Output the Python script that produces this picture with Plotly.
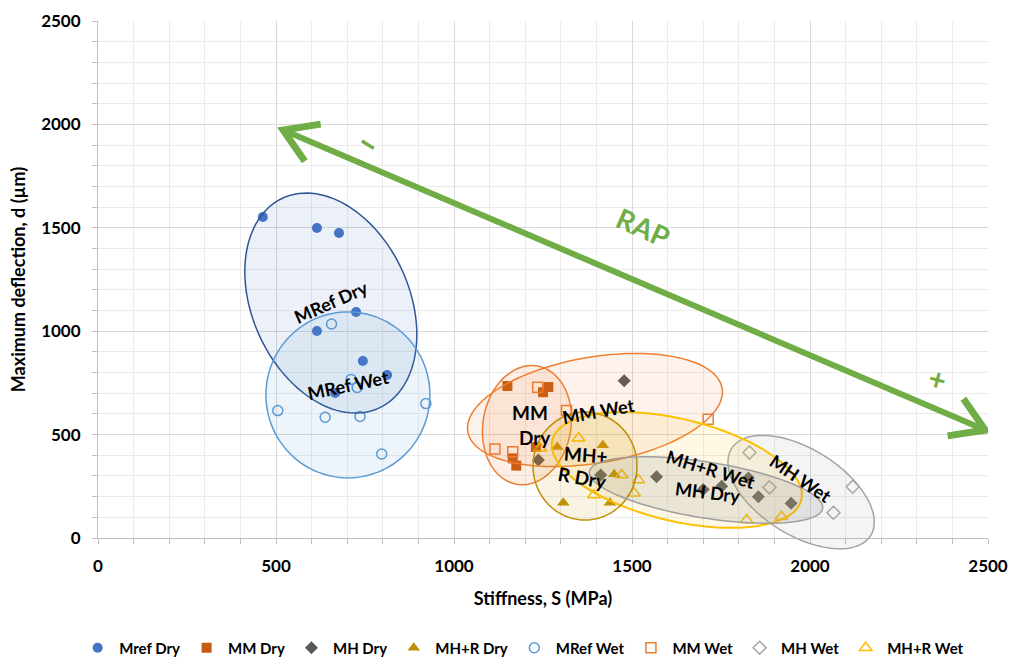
import numpy as np
import plotly.graph_objects as go

# ---------------- data (Stiffness S in MPa, max deflection d in µm) ----------------
mref_dry_s = [463, 615, 677, 725, 615, 744, 812, 666]
mref_dry_d = [1552, 1499, 1475, 1093, 1001, 856, 788, 701]
mm_dry_s = [1150, 1265, 1250, 1230, 1165, 1175]
mm_dry_d = [735, 730, 705, 440, 385, 350]
mh_dry_s = [1478, 1237, 1412, 1569, 1700, 1752, 1827, 1855, 1947]
mh_dry_d = [761, 377, 305, 296, 235, 250, 290, 200, 168]
mhr_dry_s = [1290, 1418, 1450, 1307, 1438]
mhr_dry_d = [440, 448, 308, 170, 170]
mref_wet_s = [656, 711, 728, 505, 638, 736, 921, 797]
mref_wet_d = [1035, 767, 728, 616, 584, 588, 650, 406]
mm_wet_s = [1235, 1316, 1115, 1165, 1714]
mm_wet_d = [729, 616, 430, 417, 574]
mh_wet_s = [1830, 1886, 2066, 2120]
mh_wet_d = [413, 245, 122, 248]
mhr_wet_s = [1242, 1350, 1471, 1518, 1506, 1393, 1822, 1920]
mhr_wet_d = [434, 482, 305, 280, 216, 208, 87, 103]

x_ticks = [0, 500, 1000, 1500, 2000, 2500]
y_ticks = [0, 500, 1000, 1500, 2000, 2500]
X_RANGE = [0, 2500]
Y_RANGE = [0, 2500]

# ---------------- layout geometry ----------------
W, H = 1009, 658
ML, MR, MT, MB = 98, 21, 21, 120
PW, PH = W - ML - MR, H - MT - MB
SX = PW / float(X_RANGE[1] - X_RANGE[0])   # px per MPa
SY = PH / float(Y_RANGE[1] - Y_RANGE[0])   # px per µm

FONT = "Lato, 'Open Sans', sans-serif"

fig = go.Figure()


def to_paper(xd, yd):
    return ((np.asarray(xd) - X_RANGE[0]) / (X_RANGE[1] - X_RANGE[0]),
            (np.asarray(yd) - Y_RANGE[0]) / (Y_RANGE[1] - Y_RANGE[0]))


# ---------------- ellipses (group outlines) ----------------
# center (data), semi-axes (px), angle (deg, screen, clockwise)
ellipses = [
    (654, 1136, 115.5, 78.5, 65.5, "#2F5597", "rgba(68,114,196,0.10)", 1.5),   # MRef Dry
    (702, 692, 83, 82, 90, "#5B9BD5", "rgba(91,155,213,0.11)", 1.5),           # MRef Wet
    (1396, 619, 129, 53, -9.7, "#ED7D31", "rgba(237,125,49,0.09)", 1.5),       # MM Wet
    (1205, 546, 60, 44, 100, "#ED7D31", "rgba(237,125,49,0.12)", 1.5),         # MM Dry
    (1975, 222, 82, 43, 32, "#A5A5A5", "rgba(180,180,180,0.14)", 1.5),         # MH Wet
    (1626, 329, 128, 51, 13.5, "#FFC000", "rgba(255,200,40,0.12)", 2),         # MH+R Wet
    (1368, 348, 54, 52, 90, "#BF9000", "rgba(191,144,0,0.11)", 1.5),           # MH+R Dry
    (1708, 232, 118, 28, 9, "#9F9F9F", "rgba(128,128,128,0.16)", 1.5),         # MH Dry
]


def ellipse_pts(cx, cy, a, b, ang):
    t = np.linspace(0, 2 * np.pi, 120, endpoint=False)
    th = np.radians(ang)
    dx = a * np.cos(t) * np.cos(th) - b * np.sin(t) * np.sin(th)
    dy = a * np.cos(t) * np.sin(th) + b * np.sin(t) * np.cos(th)
    return cx + dx / SX, cy - dy / SY


shapes = []
for cx, cy, a, b, ang, lc, fc, lw in ellipses:
    ex, ey = ellipse_pts(cx, cy, a, b, ang)
    px, py = to_paper(ex, ey)
    path = "M " + " L ".join("{:.5f},{:.5f}".format(u, v) for u, v in zip(px, py)) + " Z"
    shapes.append(dict(type="path", xref="paper", yref="paper", path=path,
                       fillcolor=fc, line=dict(color=lc, width=lw), layer="above"))

# ---------------- series ----------------
series = [
    ("Mref Dry", mref_dry_s, mref_dry_d, "circle", "#4472C4", True, 10),
    ("MM Dry", mm_dry_s, mm_dry_d, "square", "#C55A11", True, 10),
    ("MH Dry", mh_dry_s, mh_dry_d, "diamond", "#595959", True, 10),
    ("MH+R Dry", mhr_dry_s, mhr_dry_d, "triangle-up", "#BF9000", True, 11),
    ("MRef Wet", mref_wet_s, mref_wet_d, "circle-open", "#5B9BD5", False, 10),
    ("MM Wet", mm_wet_s, mm_wet_d, "square-open", "#ED7D31", False, 10),
    ("MH Wet", mh_wet_s, mh_wet_d, "diamond-open", "#A5A5A5", False, 10),
    ("MH+R Wet", mhr_wet_s, mhr_wet_d, "triangle-up-open", "#FFC000", False, 11),
]
for name, xs, ys, sym, col, filled, sz in series:
    fig.add_trace(go.Scatter(
        x=xs, y=ys, mode="markers", name=name,
        marker=dict(symbol=sym, size=sz, color=col,
                    line=dict(color=col, width=1.5 if not filled else 0))))

# ---------------- RAP arrow ----------------
GREEN = "#70AD47"
arrow_start = (520, 1973)
arrow_end = (2492, 522)


def to_px(p):
    return np.array([p[0] * SX, -p[1] * SY])


def to_data(v):
    return (v[0] / SX, -v[1] / SY)


p0, p1 = to_px(arrow_start), to_px(arrow_end)
shapes.append(dict(type="line", xref="x", yref="y",
                   x0=arrow_start[0], y0=arrow_start[1],
                   x1=arrow_end[0], y1=arrow_end[1],
                   line=dict(color=GREEN, width=6), layer="above"))
u = (p1 - p0) / np.linalg.norm(p1 - p0)
for tip, d in ((p0, u), (p1, -u)):
    arms = []
    for rot in (32, -32):
        r = np.radians(rot)
        v = np.array([d[0] * np.cos(r) - d[1] * np.sin(r),
                      d[0] * np.sin(r) + d[1] * np.cos(r)])
        arms.append(tip + v * 38)
    pts = [to_data(arms[0]), to_data(tip), to_data(arms[1])]
    path = "M {:.2f},{:.2f} L {:.2f},{:.2f} L {:.2f},{:.2f}".format(
        pts[0][0], pts[0][1], pts[1][0], pts[1][1], pts[2][0], pts[2][1])
    shapes.append(dict(type="path", xref="x", yref="y", path=path,
                       line=dict(color=GREEN, width=7), layer="above"))

# "minus" sign near the upper-left arrow end: short green stroke
minus_c = to_px((758, 1902))
mu = np.array([np.cos(np.radians(32)), np.sin(np.radians(32))]) * 7
m0, m1 = to_data(minus_c - mu), to_data(minus_c + mu)
shapes.append(dict(type="line", xref="x", yref="y", x0=m0[0], y0=m0[1],
                   x1=m1[0], y1=m1[1], line=dict(color=GREEN, width=3.5),
                   layer="above"))

# ---------------- labels ----------------
labels = [
    ("MRef Dry", 654, 1140, -24, 18),
    ("MRef Wet", 702, 740, -12, 18),
    ("MM", 1214, 605, 0, 19),
    ("Dry", 1227, 488, 0, 19),
    ("MM Wet", 1405, 615, -10, 18),
    ("MH+", 1372, 405, 4, 19),
    ("R Dry", 1362, 292, 10, 19),
    ("MH+R Wet", 1720, 332, 17, 18),
    ("MH Dry", 1713, 222, 7, 18),
    ("MH Wet", 1972, 290, 34, 18),
]
annotations = []
for txt, x, y, ang, sz in labels:
    annotations.append(dict(x=x, y=y, xref="x", yref="y", text="<b>%s</b>" % txt,
                            showarrow=False, textangle=ang,
                            font=dict(family=FONT, size=sz, color="#000000")))
annotations.append(dict(x=1531, y=1504, xref="x", yref="y", text="<b>RAP</b>",
                        showarrow=False, textangle=24,
                        font=dict(family=FONT, size=28, color=GREEN)))
annotations.append(dict(x=2357, y=774, xref="x", yref="y", text="<b>+</b>",
                        showarrow=False, textangle=15,
                        font=dict(family=FONT, size=30, color=GREEN)))

axis_common = dict(
    range=X_RANGE, showgrid=True, gridcolor="#D9D9D9", gridwidth=1,
    zeroline=False, showline=True, linecolor="#BFBFBF", linewidth=1,
    ticks="outside", ticklen=5, tickcolor="#BFBFBF",
    tickfont=dict(family=FONT, size=17, color="#000000", weight="bold"),
    minor=dict(dtick=100, showgrid=True, gridcolor="#EBEBEB", ticks="outside",
               ticklen=5, tickcolor="#BFBFBF"),
    fixedrange=True,
)

fig.update_layout(
    width=W, height=H,
    margin=dict(l=ML, r=MR, t=MT, b=MB, autoexpand=False),
    paper_bgcolor="white", plot_bgcolor="white",
    font=dict(family=FONT, color="#000000"),
    xaxis=dict(axis_common, range=X_RANGE, tickvals=x_ticks,
               ticktext=[str(v) for v in x_ticks], ticklabelstandoff=8,
               title=dict(text="<b>Stiffness, S (MPa)</b>", standoff=16,
                          font=dict(family=FONT, size=18, color="#000000"))),
    yaxis=dict(axis_common, range=Y_RANGE, tickvals=y_ticks,
               ticktext=[str(v) for v in y_ticks], ticklabelstandoff=8,
               title=dict(text="<b>Maximum deflection, d (µm)</b>", standoff=10,
                          font=dict(family=FONT, size=18, color="#000000"))),
    legend=dict(orientation="h", xref="container", x=0.518, xanchor="center",
                yref="container", y=1 - 648.0 / H, yanchor="middle",
                font=dict(family=FONT, size=15, color="#000000", weight="bold"),
                itemwidth=33, tracegroupgap=0),
    shapes=shapes,
    annotations=annotations,
)

fig.write_html("out.html")
